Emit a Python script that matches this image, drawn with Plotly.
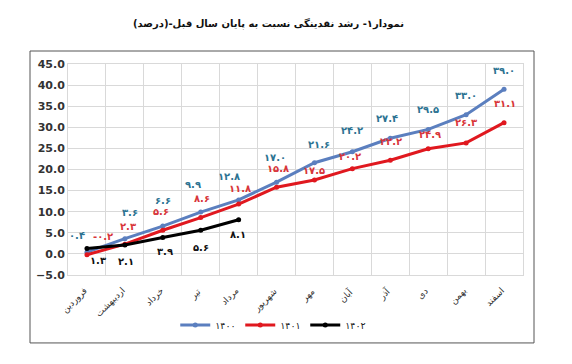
import plotly.graph_objects as go

months = ["فروردین", "اردیبهشت", "خرداد", "تیر", "مرداد", "شهریور",
          "مهر", "آبان", "آذر", "دی", "بهمن", "اسفند"]
s1400 = [0.4, 3.6, 6.6, 9.9, 12.8, 17.0, 21.6, 24.2, 27.4, 29.5, 33.0, 39.0]
s1401 = [-0.2, 2.3, 5.6, 8.6, 11.8, 15.8, 17.5, 20.2, 22.2, 24.9, 26.3, 31.1]
s1402 = [1.3, 2.1, 3.9, 5.6, 8.1]
series_names = ["۱۴۰۰", "۱۴۰۱", "۱۴۰۲"]
title_text = "نمودار۱- رشد نقدینگی نسبت به پایان سال قبل-(درصد)"

FA = str.maketrans("0123456789", "۰۱۲۳۴۵۶۷۸۹")
def fa(v):
    return f"{v:.1f}".translate(FA)

line_cols = ["#5b7fbf", "#e0181f", "#000000"]
lab_cols = ["#2c7392", "#d8363a", "#111111"]

# label pixel offsets (x, y) relative to points
off1400 = [(-10, 17), (5, 26), (0, 26), (-8, 28), (-10, 23), (-2, 25), (5, 18), (0, 21), (-3, 20), (0, 20), (0, 19), (0, 19)]
off1401 = [(16, 18), (3, 18), (-2, 19), (1, 19), (1, 16), (1, 19), (0, 10), (-2, 12), (1, 19), (2, 14), (0, 20), (1, 19)]
off1402 = [(11, -12), (1, -16), (2, -14), (0, -17), (-1, -15)]

fig = go.Figure()
for name, vals, col in zip(series_names, [s1400, s1401, s1402], line_cols):
    fig.add_trace(go.Scatter(
        x=months[:len(vals)], y=vals, name=name, mode="lines+markers",
        line=dict(color=col, width=3), marker=dict(size=5, color=col)))

annots = []
for vals, offs, col in zip([s1400, s1401, s1402], [off1400, off1401, off1402], lab_cols):
    for m, v, (dx, dy) in zip(months, vals, offs):
        annots.append(dict(x=m, y=v, text=fa(v), showarrow=False,
                           xshift=dx, yshift=dy,
                           font=dict(family="DejaVu Sans", size=10, color=col, weight="bold")))

# rotated month labels
for m in months:
    annots.append(dict(x=m, xref="x", yref="paper", y=-0.038, text=m, showarrow=False,
                       textangle=-45, xanchor="right", yanchor="top", xshift=5,
                       font=dict(family="DejaVu Sans", size=9, color="#333")))

annots.append(dict(xref="paper", yref="paper", x=0.743, y=1.19, xanchor="right", yanchor="middle",
                   text=title_text, showarrow=False,
                   font=dict(family="DejaVu Sans", size=10, color="#111", weight="bold")))

fig.update_layout(
    width=572, height=364,
    margin=dict(l=60, r=57, t=56, b=97),
    paper_bgcolor="white", plot_bgcolor="white",
    annotations=annots,
    showlegend=True,
    legend=dict(orientation="h", x=0.45, xanchor="center", y=-0.237, yanchor="middle",
                font=dict(family="DejaVu Sans", size=9.5, color="#222"),
                itemwidth=30, entrywidth=20, entrywidthmode="pixels", tracegroupgap=0),
    shapes=[dict(type="rect", xref="paper", yref="paper", x0=-0.0835, x1=1.0242,
                 y0=-0.322, y1=1.0616, line=dict(color="#555", width=1))],
)
fig.update_xaxes(type="category", range=[-0.5, 11.5], autorange=False,
                 tickson="boundaries", showgrid=True, gridcolor="#d9d9d9",
                 ticks="", showticklabels=False, showline=True, mirror=True, linecolor="#d9d9d9")
fig.update_yaxes(range=[-5, 45], autorange=False, dtick=5, tickformat=".1f", showgrid=True, gridcolor="#d9d9d9",
                 zeroline=True, zerolinecolor="#d9d9d9", zerolinewidth=1,
                 showline=True, mirror=True, linecolor="#d9d9d9",
                 tickfont=dict(family="DejaVu Sans", size=11, color="#333", weight="bold"))

fig.write_html("out.html")
